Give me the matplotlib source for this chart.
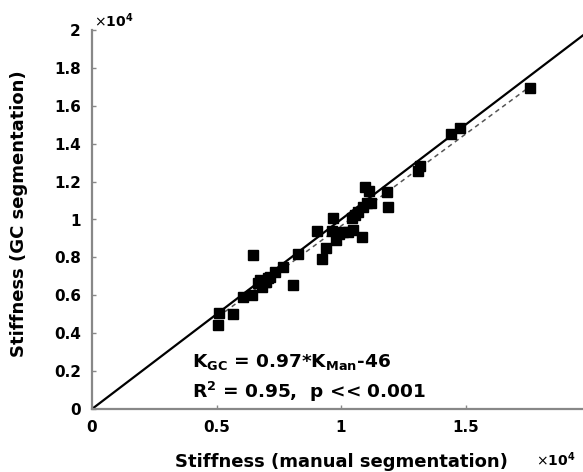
import numpy as np
import matplotlib
matplotlib.use("Agg")
import matplotlib.pyplot as plt
from matplotlib.ticker import FuncFormatter

# stiffness values (x1e4)
k_man = np.array([0.507, 0.511, 0.567, 0.608, 0.641, 0.648, 0.668, 0.675, 0.695, 0.708,
                  0.735, 0.768, 0.806, 0.829, 0.902, 0.922, 0.940, 0.962, 0.969, 0.980,
                  0.993, 1.009, 1.029, 1.050, 1.083, 1.043, 1.056, 1.070, 1.087, 1.103,
                  1.119, 1.096, 1.114, 1.186, 1.190, 1.311, 1.319, 1.441, 1.478, 1.759,
                  0.681, 0.715, 0.700]) * 1e4
k_gc = np.array([0.443, 0.508, 0.501, 0.593, 0.602, 0.813, 0.663, 0.681, 0.672, 0.690,
                 0.725, 0.748, 0.654, 0.818, 0.939, 0.792, 0.851, 0.939, 1.010, 0.892,
                 0.922, 0.936, 0.936, 0.945, 0.909, 1.006, 1.024, 1.041, 1.064, 1.085,
                 1.085, 1.170, 1.152, 1.147, 1.068, 1.258, 1.284, 1.451, 1.485, 1.696,
                 0.646, 0.698, 0.672]) * 1e4

slope = 0.97
intercept = -46
fit_x = np.array([k_man.min(), k_man.max()])

xticks = [0, 5000, 10000, 15000]
yticks = [0, 2000, 4000, 6000, 8000, 10000, 12000, 14000, 16000, 18000, 20000]

fig = plt.figure(figsize=(5.83, 4.72), dpi=100)
ax = fig.add_axes([92/583, 1-409/472, (590-92)/583, (409-30)/472])

ax.plot([0, 20000], [0, 20000], color='black', lw=1.6, zorder=2)
ax.plot(fit_x, slope*fit_x + intercept, color='#555555', lw=1.1, ls=(0, (3, 2.5)), zorder=2)
ax.plot(k_man, k_gc, 's', color='black', ms=6.5, zorder=3)

ax.set_xlim(0, 20000)
ax.set_ylim(0, 20000)
ax.set_xticks(xticks)
ax.set_yticks(yticks)
fmt = FuncFormatter(lambda v, p: '%g' % (v/1e4))
ax.xaxis.set_major_formatter(fmt)
ax.yaxis.set_major_formatter(fmt)
ax.tick_params(direction='in', length=3, width=1, color='#888888', labelsize=11, pad=8)
for lab in ax.get_xticklabels() + ax.get_yticklabels():
    lab.set_fontweight('bold')

for s in ['top', 'right']:
    ax.spines[s].set_visible(False)
for s in ['left', 'bottom']:
    ax.spines[s].set_color('#888888')
    ax.spines[s].set_linewidth(1.6)

ax.set_xlabel('Stiffness (manual segmentation)', fontsize=13, fontweight='bold')
ax.xaxis.set_label_coords(0.5, -0.115)
ax.set_ylabel('Stiffness (GC segmentation)', fontsize=13, fontweight='bold')
ax.yaxis.set_label_coords(-(92-28)/498, 0.515)

fig.text(94/583, 1-27/472, r'$\times\mathbf{10^4}$', fontsize=10, va='baseline')
fig.text(536/583, 1-466/472, r'$\times\mathbf{10^4}$', fontsize=10, va='baseline')

fig.text(192/583, 1-367/472, r'K$_{\mathbf{GC}}$ = 0.97*K$_{\mathbf{Man}}$-46',
         fontsize=13.3, fontweight='bold', va='baseline')
fig.text(192/583, 1-398/472, r'R$^{\mathbf{2}}$ = 0.95,  p << 0.001',
         fontsize=13.3, fontweight='bold', va='baseline')

fig.savefig('out.png', dpi=100)
